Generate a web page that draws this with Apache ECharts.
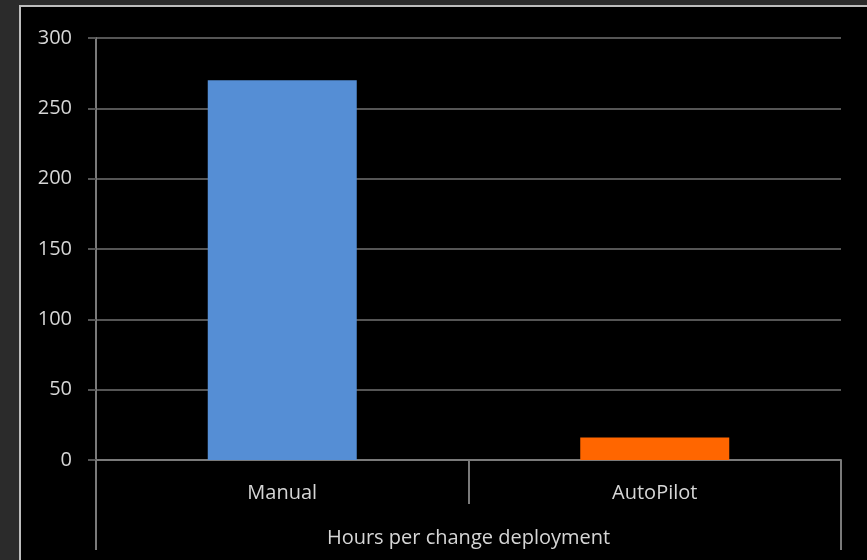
<!DOCTYPE html>
<html>
<head>
<meta charset="utf-8">
<style>
  html, body { margin: 0; padding: 0; background: #2b2b2b; }
  #chart { width: 867px; height: 560px; }
</style>
<script src="https://cdn.jsdelivr.net/npm/echarts@6/dist/echarts.min.js"></script>
</head>
<body>
<div id="chart"></div>
<script>
// Hours spent per change deployment, by method
const categories = ['Manual', 'AutoPilot'];
const hours = [270, 16];
const groupLabel = ['Hours per change deployment'];
const yTicks = { min: 0, max: 300, step: 50 };

const barColors = ['#558ed5', '#ff6600'];
const textColor = '#d6d6d6';
const gridColor = '#555555';
const axisColor = '#7a7a7a';
const fontFamily = 'Open Sans';

const chart = echarts.init(document.getElementById('chart'), null, { renderer: 'canvas' });

chart.setOption({
  backgroundColor: '#2b2b2b',
  animation: false,
  graphic: [{
    type: 'rect',
    z: -10,
    shape: { x: 20, y: 6, width: 900, height: 600 },
    style: { fill: '#000000', stroke: '#bdbdbd', lineWidth: 2 }
  }],
  grid: { left: 96, right: 26, top: 38, bottom: 100 },
  xAxis: [{
    type: 'category',
    data: categories,
    axisLine: { show: true, lineStyle: { color: axisColor, width: 2 } },
    axisTick: { show: true, interval: 0, length: 44, lineStyle: { color: axisColor, width: 2 } },
    axisLabel: { color: textColor, fontFamily: fontFamily, fontSize: 20, margin: 23 },
    splitLine: { show: false }
  }, {
    type: 'category',
    position: 'bottom',
    offset: 44,
    data: groupLabel,
    axisLine: { show: false },
    axisTick: { show: true, interval: 0, length: 46, lineStyle: { color: axisColor, width: 2 } },
    axisLabel: { color: textColor, fontFamily: fontFamily, fontSize: 20, margin: 24 },
    splitLine: { show: false }
  }],
  yAxis: {
    type: 'value',
    min: yTicks.min,
    max: yTicks.max,
    interval: yTicks.step,
    axisLine: { show: true, lineStyle: { color: axisColor, width: 2 } },
    axisTick: { show: true, length: 8, lineStyle: { color: gridColor, width: 2 } },
    axisLabel: { color: textColor, fontFamily: fontFamily, fontSize: 20, margin: 24 },
    splitLine: { show: true, lineStyle: { color: gridColor, width: 2 } }
  },
  series: [{
    type: 'bar',
    xAxisIndex: 0,
    barWidth: '40%',
    data: hours.map((v, i) => ({ value: v, itemStyle: { color: barColors[i] } }))
  }]
});
</script>
</body>
</html>
